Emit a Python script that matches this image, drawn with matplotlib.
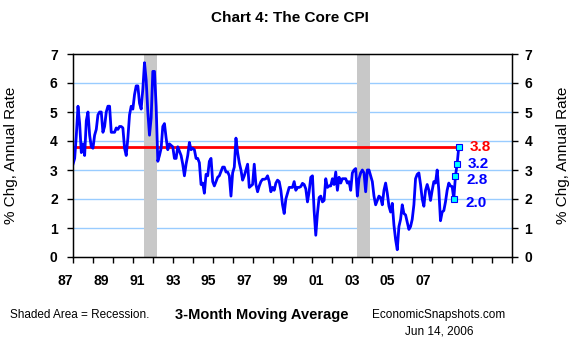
import numpy as np
import matplotlib
matplotlib.use("Agg")
import matplotlib.pyplot as plt
import matplotlib.transforms as mtransforms

plt.rcParams["font.family"] = ["Liberation Sans", "DejaVu Sans"]

# Core CPI, 3-month moving average, % chg annual rate, monthly Jan 1987 - May 2006
start_year = 1987
core_cpi = [
    # 1987
    3.2, 3.4, 4.2, 5.2, 4.6, 3.6, 3.9, 3.5, 4.7, 5.0, 4.2, 3.8,
    # 1988
    3.75, 4.2, 4.4, 4.9, 5.0, 5.0, 4.3, 4.5, 5.0, 5.2, 5.2, 4.3,
    # 1989
    4.3, 4.3, 4.45, 4.4, 4.5, 4.5, 4.45, 3.75, 3.5, 4.1, 4.9, 5.2,
    # 1990
    5.1, 5.6, 5.9, 5.9, 5.3, 5.1, 5.8, 6.7, 6.1, 5.0, 4.2, 4.8,
    # 1991
    6.4, 6.4, 5.2, 3.3, 3.5, 3.75, 4.5, 4.6, 4.1, 3.7, 3.9, 3.85,
    # 1992
    3.8, 3.4, 3.4, 3.8, 3.65, 3.5, 3.2, 2.8, 3.2, 3.5, 3.95, 3.7,
    # 1993
    3.75, 3.7, 3.4, 3.4, 3.25, 2.5, 2.55, 2.2, 2.85, 2.8, 3.3, 3.4,
    # 1994
    2.6, 2.45, 2.6, 2.75, 2.8, 2.95, 3.1, 3.1, 2.93, 2.93, 2.8, 2.1,
    # 1995
    2.9, 3.1, 4.1, 3.6, 3.25, 3.0, 2.65, 2.8, 3.0, 3.2, 2.4, 2.45,
    # 1996
    2.5, 3.2, 2.5, 2.25, 2.45, 2.6, 2.68, 2.68, 2.7, 2.8, 2.6, 2.25,
    # 1997
    2.4, 2.3, 2.55, 2.65, 2.6, 2.3, 1.8, 1.5, 2.0, 2.2, 2.4, 2.4,
    # 1998
    2.4, 2.6, 2.3, 2.4, 2.4, 2.43, 2.54, 2.5, 2.35, 1.9, 2.25, 2.75,
    # 1999
    2.8, 1.6, 0.75, 1.5, 2.05, 2.1, 1.9, 1.95, 2.7, 2.4, 2.45, 2.45,
    # 2000
    2.7, 2.5, 2.93, 2.3, 2.75, 2.55, 2.7, 2.7, 2.7, 2.55, 2.6, 2.3,
    # 2001
    2.9, 3.0, 3.05, 2.1, 2.7, 2.9, 3.0, 2.9, 2.25, 3.0, 3.0, 2.8,
    # 2002
    2.6, 2.1, 1.8, 1.95, 2.1, 2.05, 1.8, 2.3, 2.55, 2.2, 1.75, 1.55,
    # 2003
    1.85, 1.1, 0.6, 0.25, 1.05, 1.3, 1.8, 1.5, 1.45, 1.2, 0.95, 1.05,
    # 2004
    1.3, 1.8, 2.7, 2.85, 2.9, 2.5, 2.0, 1.75, 2.3, 2.5, 2.3, 1.95,
    # 2005
    2.3, 2.6, 2.55, 3.0, 2.3, 1.25, 1.55, 1.6, 1.9, 2.3, 2.55, 2.45,
    # 2006
    2.43, 2.0, 2.8, 3.2, 3.8,
]
recessions = [(1990.55, 1991.22), (2001.23, 2001.86)]
last_labels = ["2.0", "3.2", "2.8", "3.8"]
y_ticks = list(range(0, 8))
x_label_years = list(range(1987, 2009, 2))

dates = start_year + np.arange(len(core_cpi)) / 12.0
values = np.array(core_cpi)
latest = values[-1]

fig = plt.figure(figsize=(5.81, 3.51), dpi=100)
ax = fig.add_axes([73 / 581, 1 - 257 / 351, 439 / 581, 203 / 351])

for r0, r1 in recessions:
    ax.axvspan(r0, r1, color="#c8c8c8", lw=0, zorder=1)

for y in y_ticks[1:-1]:
    ax.axhline(y, color="#99ccff", lw=1, zorder=0.5)

ax.plot([start_year, dates[-1]], [latest, latest], color="#ff0000", lw=2, zorder=2)
ax.plot(dates, values, color="#0000ff", lw=2, zorder=3)
ax.plot(dates[-4:], values[-4:], ls="none", marker="s", ms=4.5,
        mfc="#00ffff", mec="#0000ff", mew=0.8, zorder=4)

# value labels next to the last four points
label_x = [2006.67, 2006.77, 2006.72, 2006.87]
label_y = [1.86, 3.21, 2.66, 3.78]
label_c = ["#0000ff", "#0000ff", "#0000ff", "#ff0000"]
for txt, lx, ly, c in zip(last_labels, label_x, label_y, label_c):
    ax.text(lx, ly, txt, color=c, fontsize=11, fontweight="bold",
            ha="left", va="center", zorder=5)

ax.set_xlim(1987, 2009)
ax.set_ylim(0, 7)
ax.set_xticks(np.arange(1987, 2010, 1))
ax.set_xticklabels([])
ax.set_yticks(y_ticks)
ax.tick_params(axis="x", direction="out", length=4, width=1)
ax.tick_params(axis="y", direction="out", length=4, width=1, pad=7,
               labelsize=10)
for lab in ax.get_yticklabels():
    lab.set_fontweight("bold")
for sp in ax.spines.values():
    sp.set_linewidth(1)
ax.set_ylabel("% Chg, Annual Rate", fontsize=11)
ax.yaxis.set_label_coords(-0.125, 0.5)

ax2 = ax.twinx()
ax2.set_ylim(0, 7)
ax2.set_yticks(y_ticks)
ax2.tick_params(axis="y", direction="out", length=4, width=1, pad=5,
                labelsize=10)
for lab in ax2.get_yticklabels():
    lab.set_fontweight("bold")
ax2.set_ylabel("% Chg, Annual Rate", fontsize=11)
ax2.yaxis.set_label_coords(1.1, 0.5)

# year labels sit on their own compressed scale, as in the original chart
trans = mtransforms.blended_transform_factory(ax.transData, ax.transAxes)
for k, yr in enumerate(x_label_years):
    ax.text(1986.62 + 1.794 * k, -0.118, f"{yr % 100:02d}", transform=trans,
            ha="center", va="center", fontsize=10, fontweight="bold",
            clip_on=False)

fig.text(0.499, 0.949, "Chart 4: The Core CPI", ha="center", va="center",
         fontsize=11, fontweight="bold")
fig.text(10 / 581, 1 - 315 / 351, "Shaded Area = Recession.", ha="left",
         va="center", fontsize=8.5)
fig.text(262 / 581, 1 - 315 / 351, "3-Month Moving Average", ha="center",
         va="center", fontsize=10.5, fontweight="bold")
fig.text(439 / 581, 1 - 315 / 351, "EconomicSnapshots.com", ha="center",
         va="center", fontsize=8.5)
fig.text(439 / 581, 1 - 332 / 351, "Jun 14, 2006", ha="center",
         va="center", fontsize=8.5)

fig.savefig("out.png", dpi=100, facecolor="white")
